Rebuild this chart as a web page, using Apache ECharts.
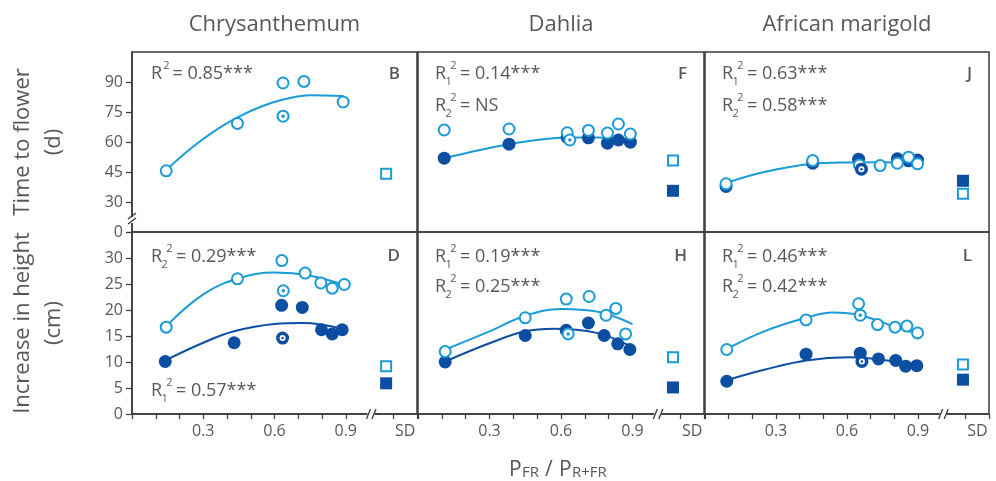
<!DOCTYPE html>
<html><head><meta charset="utf-8">
<script src="https://cdn.jsdelivr.net/npm/echarts@6/dist/echarts.min.js"></script>
<style>html,body{margin:0;padding:0;background:#fff}#c{width:996px;height:481px}</style>
</head><body><div id="c"></div>
<script>
// ---------- DATA ----------
const columnTitles = ['Chrysanthemum', 'Dahlia', 'African marigold'];
const rowTitles = [['Time to flower', '(d)'], ['Increase in height', '(cm)']];
const xTickLabels = {3: '0.3', 6: '0.6', 9: '0.9', 11: 'SD'};
const topTickLabels = {15: '0', 30: '30', 45: '45', 60: '60', 75: '75', 90: '90'};
const bottomTickLabels = {0: '0', 5: '5', 10: '10', 15: '15', 20: '20', 25: '25', 30: '30'};
const sdX = [1.07, 1.07, 1.09];

// Panel B: Chrysanthemum, time to flower
const bOpenX = [0.144, 0.444, 0.636, 0.724, 0.889];
const bOpenY = [45.6, 69.3, 89.5, 90.3, 80.0];
const bOpenDotX = [0.636];
const bOpenDotY = [72.9];
const bSDOpen = 44.1;
const bCurveX = [0.144, 0.25, 0.35, 0.444, 0.55, 0.65, 0.75, 0.889];
const bCurveY = [46.0, 57.0, 65.7, 72.3, 78.0, 81.6, 83.4, 83.0];

// Panel F: Dahlia, time to flower
const fOpenX = [0.110, 0.382, 0.626, 0.715, 0.795, 0.841, 0.891];
const fOpenY = [66.0, 66.5, 64.6, 65.8, 64.5, 69.0, 64.0];
const fOpenDotX = [0.637];
const fOpenDotY = [61.0];
const fFillX = [0.110, 0.382, 0.626, 0.715, 0.795, 0.841, 0.891];
const fFillY = [51.9, 58.9, 62.3, 62.1, 59.4, 61.0, 59.9];
const fSDOpen = 50.7, fSDFill = 35.6;
const fCurveX = [0.110, 0.25, 0.382, 0.50, 0.626, 0.75, 0.891];
const fCurveY = [51.9, 55.8, 58.9, 61.0, 62.2, 62.3, 61.3];

// Panel J: African marigold, time to flower
const jOpenX = [0.089, 0.455, 0.652, 0.740, 0.813, 0.860, 0.898];
const jOpenY = [39.1, 50.7, 48.5, 48.2, 49.4, 52.4, 49.1];
const jFillX = [0.089, 0.455, 0.649, 0.813, 0.860, 0.898];
const jFillY = [37.8, 49.4, 51.4, 51.6, 50.6, 51.0];
const jFillDotX = [0.661];
const jFillDotY = [46.4];
const jSDOpen = 34.1, jSDFill = 40.6;
const jCurveX = [0.089, 0.25, 0.455, 0.60, 0.75, 0.898];
const jCurveY = [39.5, 45.0, 49.1, 49.8, 49.9, 49.5];

// Panel D: Chrysanthemum, increase in height
const dOpenX = [0.144, 0.444, 0.631, 0.729, 0.795, 0.843, 0.894];
const dOpenY = [16.7, 26.0, 29.5, 27.1, 25.2, 24.2, 24.9];
const dOpenDotX = [0.637];
const dOpenDotY = [23.7];
const dFillX = [0.140, 0.430, 0.630, 0.717, 0.798, 0.843, 0.885];
const dFillY = [10.1, 13.7, 20.9, 20.5, 16.2, 15.4, 16.2];
const dFillDotX = [0.634];
const dFillDotY = [14.6];
const dSDOpen = 9.2, dSDFill = 5.9;
const dCurveOpenX = [0.144, 0.30, 0.444, 0.60, 0.75, 0.894];
const dCurveOpenY = [16.9, 23.0, 26.0, 27.2, 26.6, 24.8];
const dCurveFillX = [0.140, 0.30, 0.430, 0.60, 0.72, 0.885];
const dCurveFillY = [10.3, 13.7, 15.9, 17.3, 17.5, 16.4];

// Panel H: Dahlia, increase in height
const hOpenX = [0.114, 0.450, 0.622, 0.718, 0.789, 0.830, 0.871];
const hOpenY = [12.0, 18.5, 22.1, 22.6, 19.0, 20.3, 15.4];
const hOpenDotX = [0.630];
const hOpenDotY = [15.4];
const hFillX = [0.114, 0.450, 0.622, 0.715, 0.781, 0.838, 0.889];
const hFillY = [10.0, 15.1, 16.1, 17.5, 15.1, 13.5, 12.4];
const hSDOpen = 10.9, hSDFill = 5.1;
const hCurveOpenX = [0.114, 0.30, 0.45, 0.60, 0.75, 0.90];
const hCurveOpenY = [12.4, 15.9, 18.9, 20.2, 19.7, 17.3];
const hCurveFillX = [0.114, 0.30, 0.45, 0.57, 0.75, 0.88];
const hCurveFillY = [10.1, 13.6, 15.9, 16.4, 15.6, 13.3];

// Panel L: African marigold, increase in height
const lOpenX = [0.092, 0.427, 0.649, 0.729, 0.803, 0.853, 0.898];
const lOpenY = [12.4, 18.1, 21.2, 17.2, 16.7, 16.9, 15.6];
const lOpenDotX = [0.656];
const lOpenDotY = [19.0];
const lFillX = [0.092, 0.427, 0.656, 0.733, 0.806, 0.848, 0.895];
const lFillY = [6.3, 11.5, 11.7, 10.6, 10.3, 9.2, 9.3];
const lFillDotX = [0.663];
const lFillDotY = [10.1];
const lSDOpen = 9.5, lSDFill = 6.6;
const lCurveOpenX = [0.092, 0.25, 0.427, 0.54, 0.656, 0.80, 0.898];
const lCurveOpenY = [12.5, 15.9, 18.5, 19.5, 19.0, 16.8, 15.4];
const lCurveFillX = [0.092, 0.25, 0.427, 0.61, 0.75, 0.89];
const lCurveFillY = [6.5, 8.5, 10.3, 10.9, 10.4, 9.5];

const annotations = [
  {g: 0, lines: [['', '0.85***']], letter: 'B'},
  {g: 1, lines: [['1', '0.14***'], ['2', 'NS']], letter: 'F'},
  {g: 2, lines: [['1', '0.63***'], ['2', '0.58***']], letter: 'J'},
  {g: 3, lines: [['2', '0.29***']], bottomLine: ['1', '0.57***'], letter: 'D'},
  {g: 4, lines: [['1', '0.19***'], ['2', '0.25***']], letter: 'H'},
  {g: 5, lines: [['1', '0.46***'], ['2', '0.42***']], letter: 'L'}
];

// ---------- STYLE / LAYOUT ----------
const LIGHT = '#1a9bd7', DARK = '#0c4ea2', TXT = '#585858', AX = '#3a3a3a';
const FONT = "'Open Sans', 'Noto Sans', sans-serif";
const colLeft = [132, 418, 705], colW = [285, 286, 284];
const rowTop = [52, 232], rowH = [180, 182];

const pts = (xs, ys) => xs.map((x, i) => [x, ys[i]]);

const grids = [], xAxes = [], yAxes = [], series = [];
for (let r = 0; r < 2; r++) for (let c = 0; c < 3; c++) {
  const gi = r * 3 + c;
  grids.push({left: colLeft[c], top: rowTop[r], width: colW[c], height: rowH[r],
    show: true, borderColor: AX, borderWidth: 1.5, backgroundColor: 'transparent'});
  xAxes.push({gridIndex: gi, type: 'value', min: 0, max: 1.2, interval: 0.1,
    axisLine: {show: r === 1, lineStyle: {color: AX, width: 1.5}},
    axisTick: {show: r === 1, length: 5, lineStyle: {color: AX, width: 1.2}},
    splitLine: {show: false},
    axisLabel: {show: r === 1, margin: 9, color: TXT, fontFamily: FONT, fontSize: 16,
      formatter: v => { const k = Math.round(v * 10); const t = xTickLabels[k] || '';
        return k === 11 ? '{sd|SD}' : t; },
      rich: {sd: {padding: [0, 0, 0, 24], color: TXT, fontFamily: FONT, fontSize: 16}}}
  });
  const isTop = r === 0;
  yAxes.push({gridIndex: gi, type: 'value',
    min: isTop ? 15 : 0, max: isTop ? 105 : 35, interval: isTop ? 15 : 5,
    axisLine: {show: c === 0, lineStyle: {color: AX, width: 1.5}},
    axisTick: {show: c === 0, length: 6, lineStyle: {color: AX, width: 1.2}},
    splitLine: {show: false},
    axisLabel: {show: c === 0, margin: 9, color: TXT, fontFamily: FONT, fontSize: 16,
      formatter: v => { const m = isTop ? topTickLabels : bottomTickLabels; return m[Math.round(v)] || ''; }}
  });
}

function curve(gi, xs, ys, color) {
  series.push({type: 'line', xAxisIndex: gi, yAxisIndex: gi, data: pts(xs, ys), smooth: 0.4,
    showSymbol: false, symbol: 'none', lineStyle: {color, width: 2}, z: 1, silent: true});
}
function sc(gi, data, symbol, size, style, z) {
  series.push({type: 'scatter', xAxisIndex: gi, yAxisIndex: gi, data, symbol, symbolSize: size,
    itemStyle: Object.assign({opacity: 1}, style), z});
}
function filled(gi, xs, ys) { sc(gi, pts(xs, ys), 'circle', 13, {color: DARK}, 2); }
function openC(gi, xs, ys) { sc(gi, pts(xs, ys), 'circle', 11, {color: '#fff', borderColor: LIGHT, borderWidth: 2}, 3); }
function openDot(gi, xs, ys) {
  openC(gi, xs, ys);
  sc(gi, pts(xs, ys), 'circle', 3.5, {color: LIGHT}, 4);
}
function fillDot(gi, xs, ys) {
  sc(gi, pts(xs, ys), 'circle', 13, {color: DARK}, 4);
  sc(gi, pts(xs, ys), 'circle', 6, {color: '#fff'}, 5);
  sc(gi, pts(xs, ys), 'circle', 2.5, {color: DARK}, 6);
}
function sd(gi, c, openV, fillV) {
  if (fillV !== null) sc(gi, [[sdX[c], fillV]], 'rect', 12, {color: DARK}, 2);
  sc(gi, [[sdX[c], openV]], 'rect', 10, {color: '#fff', borderColor: LIGHT, borderWidth: 2}, 3);
}

// B
curve(0, bCurveX, bCurveY, LIGHT); openC(0, bOpenX, bOpenY); openDot(0, bOpenDotX, bOpenDotY); sd(0, 0, bSDOpen, null);
// F
curve(1, fCurveX, fCurveY, LIGHT); filled(1, fFillX, fFillY); openC(1, fOpenX, fOpenY); openDot(1, fOpenDotX, fOpenDotY); sd(1, 1, fSDOpen, fSDFill);
// J
curve(2, jCurveX, jCurveY, LIGHT); filled(2, jFillX, jFillY); openC(2, jOpenX, jOpenY); fillDot(2, jFillDotX, jFillDotY); sd(2, 2, jSDOpen, jSDFill);
// D
curve(3, dCurveOpenX, dCurveOpenY, LIGHT); curve(3, dCurveFillX, dCurveFillY, DARK);
filled(3, dFillX, dFillY); fillDot(3, dFillDotX, dFillDotY); openC(3, dOpenX, dOpenY); openDot(3, dOpenDotX, dOpenDotY); sd(3, 0, dSDOpen, dSDFill);
// H
curve(4, hCurveOpenX, hCurveOpenY, LIGHT); curve(4, hCurveFillX, hCurveFillY, DARK);
filled(4, hFillX, hFillY); openC(4, hOpenX, hOpenY); openDot(4, hOpenDotX, hOpenDotY); sd(4, 1, hSDOpen, hSDFill);
// L
curve(5, lCurveOpenX, lCurveOpenY, LIGHT); curve(5, lCurveFillX, lCurveFillY, DARK);
filled(5, lFillX, lFillY); fillDot(5, lFillDotX, lFillDotY); openC(5, lOpenX, lOpenY); openDot(5, lOpenDotX, lOpenDotY); sd(5, 2, lSDOpen, lSDFill);

const chart = echarts.init(document.getElementById('c'), null, {renderer: 'canvas'});
chart.setOption({animation: false, backgroundColor: '#fff', grid: grids, xAxis: xAxes, yAxis: yAxes, series});

// ---------- GRAPHIC TEXT / MARKS ----------
const G = [];
const txt = (x, y, s, size, opt) => G.push({type: 'text', x, y, z: 20,
  style: Object.assign({text: s, fill: TXT, fontFamily: FONT, fontSize: size, fontWeight: 'normal',
    align: 'left', verticalAlign: 'middle'}, opt || {})});
// column titles
columnTitles.forEach((t, c) => txt(colLeft[c] + colW[c] / 2, 25, t, 22, {align: 'center'}));
// row titles
rowTitles.forEach((lines, r) => {
  const cy = rowTop[r] + rowH[r] / 2;
  [23, 54].forEach((x, i) => G.push({type: 'text', x, y: cy, rotation: Math.PI / 2, z: 20,
    style: {text: lines[i], fill: TXT, fontFamily: FONT, fontSize: 22, align: 'center', verticalAlign: 'middle'}}));
});
// R^2 annotations
function rsq(x, y, sub, val) {
  txt(x, y, 'R', 18);
  if (sub) {
    txt(x + 13.6, y + 8, sub, 11, {align: 'center'});
    txt(x + 18.3, y - 8, '2', 11, {align: 'center'});
    txt(x + 25, y, '= ' + val, 18);
  } else {
    txt(x + 15.5, y - 8, '2', 11, {align: 'center'});
    txt(x + 21.5, y, '= ' + val, 18);
  }
}
annotations.forEach(a => {
  const c = a.g % 3, r = Math.floor(a.g / 3);
  const x0 = colLeft[c] + (c === 0 ? 19 : 17);
  const y0 = rowTop[r] + (r === 0 ? 22 : 24.5);
  a.lines.forEach((l, i) => rsq(x0, y0 + i * (r === 0 ? 32 : 30), l[0], l[1]));
  if (a.bottomLine) rsq(x0, rowTop[r] + 158.5, a.bottomLine[0], a.bottomLine[1]);
  txt(colLeft[c] + colW[c] - 17, y0, a.letter, 17, {align: 'right', fontWeight: 600});
});
// x-axis title
txt(509, 470, 'P', 21);
txt(522, 473, 'FR', 15);
txt(545, 470, '/', 21);
txt(559, 470, 'P', 21);
txt(572, 473, 'R+FR', 15);

// hide tick at the top of the top-left axis
G.push({type: 'rect', z: 30, shape: {x: colLeft[0] - 8, y: rowTop[0] - 2, width: 7, height: 4}, style: {fill: '#fff'}});

// axis breaks (x at 1.0 on bottom row)
for (let gi = 3; gi < 6; gi++) {
  const p = chart.convertToPixel({gridIndex: gi}, [1.0, 0]);
  const px = p[0] + 2, py = p[1];
  G.push({type: 'rect', z: 30, shape: {x: px - 4, y: py - 2, width: 7, height: 9}, style: {fill: '#fff'}});
  G.push({type: 'line', z: 31, shape: {x1: px - 5, y1: py + 5, x2: px - 1, y2: py - 5}, style: {stroke: AX, lineWidth: 1.3}});
  G.push({type: 'line', z: 31, shape: {x1: px + 0.5, y1: py + 5, x2: px + 4.5, y2: py - 5}, style: {stroke: AX, lineWidth: 1.3}});
}
// y break on top-left panel
{
  const p = chart.convertToPixel({gridIndex: 0}, [0, 21]);
  const px = p[0], py = p[1];
  G.push({type: 'rect', z: 30, shape: {x: px - 2, y: py - 3, width: 4, height: 6}, style: {fill: '#fff'}});
  G.push({type: 'line', z: 31, shape: {x1: px - 4, y1: py - 1, x2: px + 4, y2: py - 7}, style: {stroke: AX, lineWidth: 1.3}});
  G.push({type: 'line', z: 31, shape: {x1: px - 4, y1: py + 4, x2: px + 4, y2: py - 2}, style: {stroke: AX, lineWidth: 1.3}});
}
chart.setOption({graphic: G});
</script>
</body></html>
